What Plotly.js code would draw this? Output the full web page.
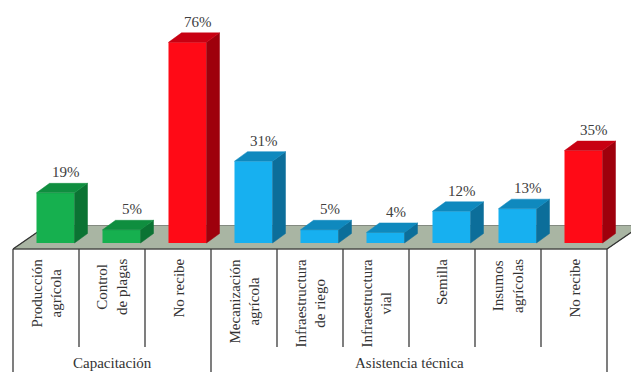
<!DOCTYPE html>
<html>
<head>
<meta charset="utf-8">
<script src="https://cdn.plot.ly/plotly-3.0.1.min.js"></script>
<style>html,body{margin:0;padding:0;background:#fff;}</style>
</head>
<body>
<div id="chart" style="width:631px;height:372px"></div>
<script>
// ---- data ----
const tickLabels = ['Producción<br>agrícola','Control<br>de plagas','No recibe','Mecanización<br>agrícola','Infraestructura<br>de riego','Infraestructura<br>vial','Semilla','Insumos<br>agrícolas','No recibe'];
const groups = ['Capacitación','Capacitación','Capacitación','Asistencia técnica','Asistencia técnica','Asistencia técnica','Asistencia técnica','Asistencia técnica','Asistencia técnica'];
const values = [19, 5, 76, 31, 5, 4, 12, 13, 35];
const valueLabels = values.map(v => v + '%');

// ---- style ----
const FONT = 'Liberation Serif';
const PX_X = 66, PX_Y = 2.64;           // pixels per unit
const W = 631, H = 372;
const zeroPx = 243, firstCenterPx = 46;
const barW = 38 / PX_X, barOff = 9.5 / PX_X - barW / 2;
const dX = 13 / PX_X, dY = 9.5 / PX_Y;   // 3D depth offset
const palette = {
  'Capacitación': {front:'#16B04F', top:'#0F8E3F', side:'#0B7333'},
  'Asistencia técnica': {front:'#17B0F0', top:'#0F89BE', side:'#0C6E9A'},
  'none': {front:'#FF0A16', top:'#C80012', side:'#9E000C'}
};
const colorOf = i => tickLabels[i] === 'No recibe' ? palette['none'] : palette[groups[i]];
const pxToY = p => (zeroPx - p) / PX_Y;
const xr = [-firstCenterPx / PX_X, (W - firstCenterPx) / PX_X];
const yr = [pxToY(H), pxToY(0)];
const n = values.length;
const xs = values.map((_, i) => i);

const traces = [];
traces.push({
  type:'bar', x: xs, y: values, width: barW, offset: barOff,
  marker:{color: xs.map(i => colorOf(i).front), line:{width:0}},
  hoverinfo:'skip'
});
xs.forEach(i => {
  const v = values[i], x0 = i + barOff, x1 = x0 + barW, c = colorOf(i);
  traces.push({type:'scatter', mode:'lines', x:[x1, x1+dX, x1+dX, x1, x1], y:[0, dY, v+dY, v, 0],
    fill:'toself', fillcolor:c.side, line:{color:c.side, width:0.5}, hoverinfo:'skip'});
  traces.push({type:'scatter', mode:'lines', x:[x0, x1, x1+dX, x0+dX, x0], y:[v, v, v+dY, v+dY, v],
    fill:'toself', fillcolor:c.top, line:{color:c.top, width:0.5}, hoverinfo:'skip'});
});

const floorFront = pxToY(249), floorBack = pxToY(225.5);
const fdx = 34 / PX_X;
const shapes = [];
shapes.push({type:'path', xref:'x', yref:'y', layer:'below',
  path:`M ${-0.5} ${floorFront} L ${n-0.5} ${floorFront} L ${n-0.5+fdx} ${floorBack} L ${-0.5+fdx} ${floorBack} Z`,
  fillcolor:'#A9B5A3', line:{color:'#6E756B', width:0.8}});
shapes.push({type:'line', xref:'x', yref:'y', layer:'below', x0:-0.5, x1:n-0.5, y0:floorFront, y1:floorFront, line:{color:'#333', width:1.2}});
shapes.push({type:'line', xref:'x', yref:'y', layer:'below', x0:-0.5, x1:-0.5+fdx, y0:floorFront, y1:floorBack, line:{color:'#333', width:1.2}});
shapes.push({type:'line', xref:'x', yref:'y', layer:'below', x0:n-0.5, x1:n-0.5+fdx, y0:floorFront, y1:floorBack, line:{color:'#333', width:1.2}});
for (let k = 0; k <= n; k++) {
  const boundary = k === 0 || k === n || groups[k] !== groups[k-1];
  shapes.push({type:'line', xref:'x', yref:'y', x0:k-0.5, x1:k-0.5, y0:floorFront,
    y1: boundary ? pxToY(H + 5) : pxToY(347), line:{color:'#3a3a3a', width:1.3}});
}

const annotations = [];
xs.forEach(i => {
  annotations.push({x:i, y:pxToY(257), xref:'x', yref:'y', text:tickLabels[i], textangle:-90,
    showarrow:false, xanchor:'center', yanchor:'top', font:{family:FONT, size:15, color:'#333'}});
  annotations.push({x:i + 20 / PX_X, y:values[i] + dY + 11 / PX_Y, xref:'x', yref:'y', text:valueLabels[i],
    showarrow:false, xanchor:'center', yanchor:'middle', font:{family:FONT, size:15, color:'#404040'}});
});
const uniqueGroups = [...new Set(groups)];
uniqueGroups.forEach(g => {
  const idx = xs.filter(i => groups[i] === g);
  annotations.push({x:(idx[0] + idx[idx.length-1]) / 2, y:pxToY(363), xref:'x', yref:'y', text:g,
    showarrow:false, xanchor:'center', yanchor:'middle', font:{family:FONT, size:15, color:'#333'}});
});

const layout = {
  width:W, height:H, margin:{l:0, r:0, t:0, b:0, pad:0},
  paper_bgcolor:'#fff', plot_bgcolor:'#fff', showlegend:false,
  font:{family:FONT},
  xaxis:{range:xr, visible:false, fixedrange:true},
  yaxis:{range:yr, visible:false, fixedrange:true},
  shapes, annotations, hovermode:false
};
Plotly.newPlot('chart', traces, layout, {displayModeBar:false});
</script>
</body>
</html>
